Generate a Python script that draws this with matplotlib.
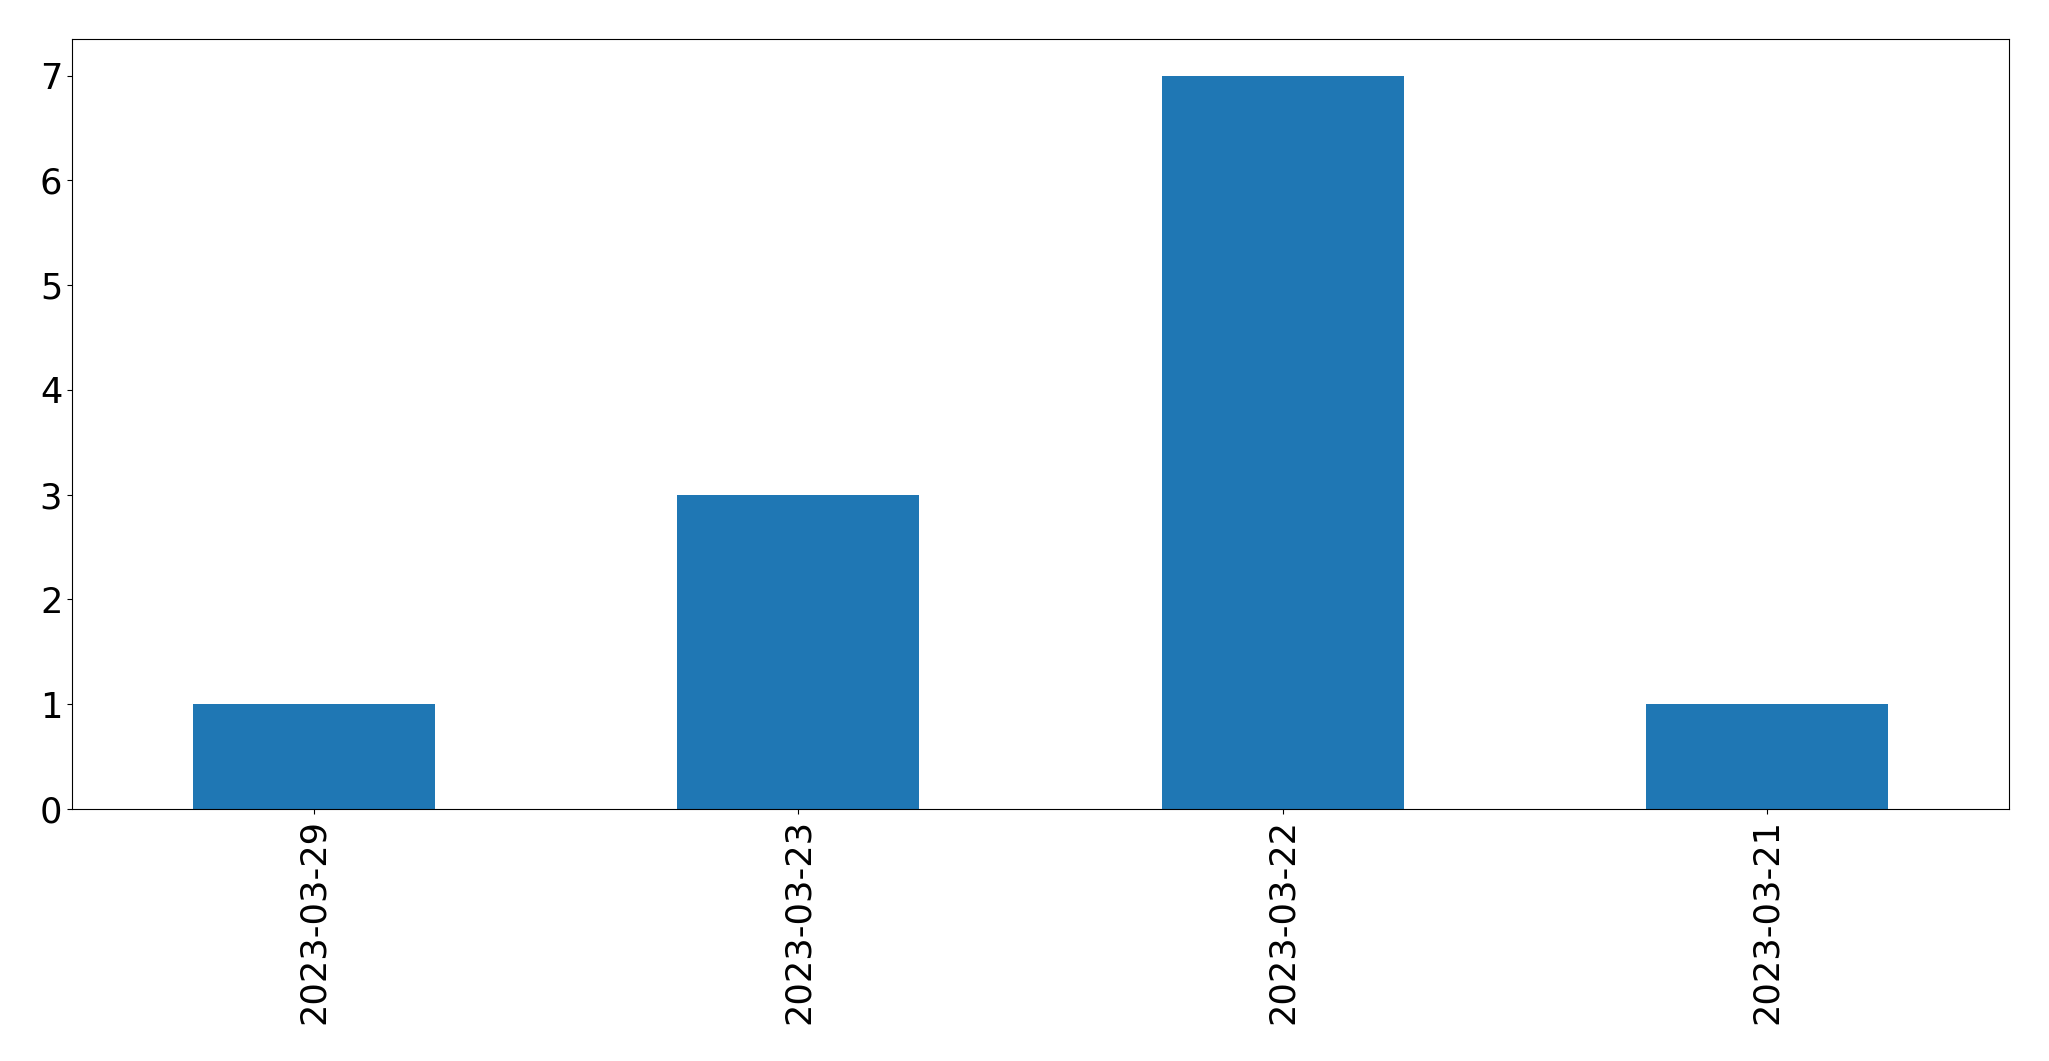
import matplotlib
matplotlib.use("Agg")
import matplotlib.pyplot as plt
import pandas as pd

dates = ["2023-03-29", "2023-03-23", "2023-03-22", "2023-03-21"]
counts = [1, 3, 7, 1]

serie = pd.Series(counts, index=dates)

fig = plt.figure(figsize=(20.49, 10.61), dpi=100)
ax = fig.add_axes([72 / 2049, 1 - 809 / 1061, (2009 - 72) / 2049, (809 - 39) / 1061])
serie.plot(kind="bar", ax=ax, color="#1f77b4")
ax.tick_params(axis="both", labelsize=25.3)
fig.savefig("out.png", dpi=100)
